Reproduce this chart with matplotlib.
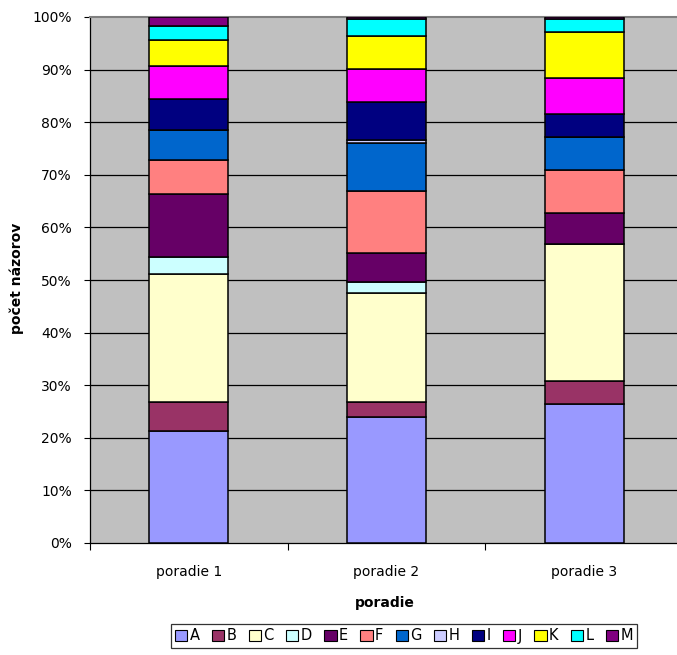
import matplotlib
matplotlib.use("Agg")
import matplotlib.pyplot as plt
from matplotlib.patches import Patch
import numpy as np

plt.rcParams['font.family'] = ['DejaVu Sans']

# percent share of each answer within every ranking position
categories = ['poradie 1', 'poradie 2', 'poradie 3']
labels = ['A', 'B', 'C', 'D', 'E', 'F', 'G', 'H', 'I', 'J', 'K', 'L', 'M']
A = [21.3, 24.0, 26.4]
B = [5.5, 2.8, 4.4]
C = [24.3, 20.7, 26.0]
D = [3.3, 2.1, 0.0]
E = [11.9, 5.6, 6.0]
F = [6.5, 11.8, 8.2]
G = [5.8, 9.1, 6.2]
H = [0.0, 0.5, 0.0]
I = [5.8, 7.2, 4.4]
J = [6.3, 6.4, 6.8]
K = [4.9, 6.2, 8.7]
L = [2.7, 3.2, 2.5]
M = [1.7, 0.4, 0.4]
series = [A, B, C, D, E, F, G, H, I, J, K, L, M]

colors = ['#9999FF', '#993366', '#FFFFCC', '#CCFFFF', '#660066', '#FF8080',
          '#0066CC', '#CCCCFF', '#000080', '#FF00FF', '#FFFF00', '#00FFFF',
          '#800080']

W, Hpx = 677, 655
fig = plt.figure(figsize=(W / 100, Hpx / 100), dpi=100)
ax = fig.add_axes([90 / W, 112 / Hpx, 593 / W, 526 / Hpx])
ax.set_facecolor('#C0C0C0')

x = np.arange(len(categories))
bottom = np.zeros(len(categories))
for vals, col, lab in zip(series, colors, labels):
    vals = np.array(vals)
    ax.bar(x, vals, 0.40, bottom=bottom, color=col, edgecolor='black',
           linewidth=1.1, label=lab, zorder=3)
    bottom += vals

ax.set_xlim(-0.5, 2.5)
ax.set_ylim(0, 100)
ax.set_yticks(np.arange(0, 101, 10))
ax.set_yticklabels([f'{v}%' for v in range(0, 101, 10)], fontsize=10)
for yv in range(10, 100, 10):
    ax.axhline(yv, color='black', linewidth=0.9, zorder=1)

ax.set_xticks(x)
ax.set_xticklabels(categories, fontsize=10)
ax.tick_params(axis='x', which='major', length=0, pad=16)
ax.set_xticks([-0.5, 0.5, 1.5, 2.5], minor=True)
ax.tick_params(axis='x', which='minor', length=5, width=0.8, direction='out')
ax.tick_params(axis='y', length=4, width=0.8, pad=9)

for side in ['left', 'bottom']:
    ax.spines[side].set_color('black')
    ax.spines[side].set_linewidth(0.9)
ax.spines['top'].set_color('#808080')
ax.spines['top'].set_linewidth(1.5)
ax.spines['right'].set_visible(False)

fig.text(17 / W, 1 - 278 / Hpx, 'počet názorov', rotation=90, fontsize=10,
         fontweight='bold', ha='center', va='center')
fig.text(385 / W, 1 - 603 / Hpx, 'poradie', fontsize=10, fontweight='bold',
         ha='center', va='center')

handles = [Patch(facecolor=c, edgecolor='black', linewidth=0.8) for c in colors]
leg = fig.legend(handles, labels, loc='center', ncol=13,
                 bbox_to_anchor=(404 / W, 1 - 636 / Hpx), fontsize=10.5,
                 frameon=True, fancybox=False, edgecolor='black',
                 handlelength=0.85, handleheight=0.85, handletextpad=0.15,
                 columnspacing=0.85, borderpad=0.3, borderaxespad=0)
leg.get_frame().set_linewidth(0.9)

fig.savefig('out.png', dpi=100)
